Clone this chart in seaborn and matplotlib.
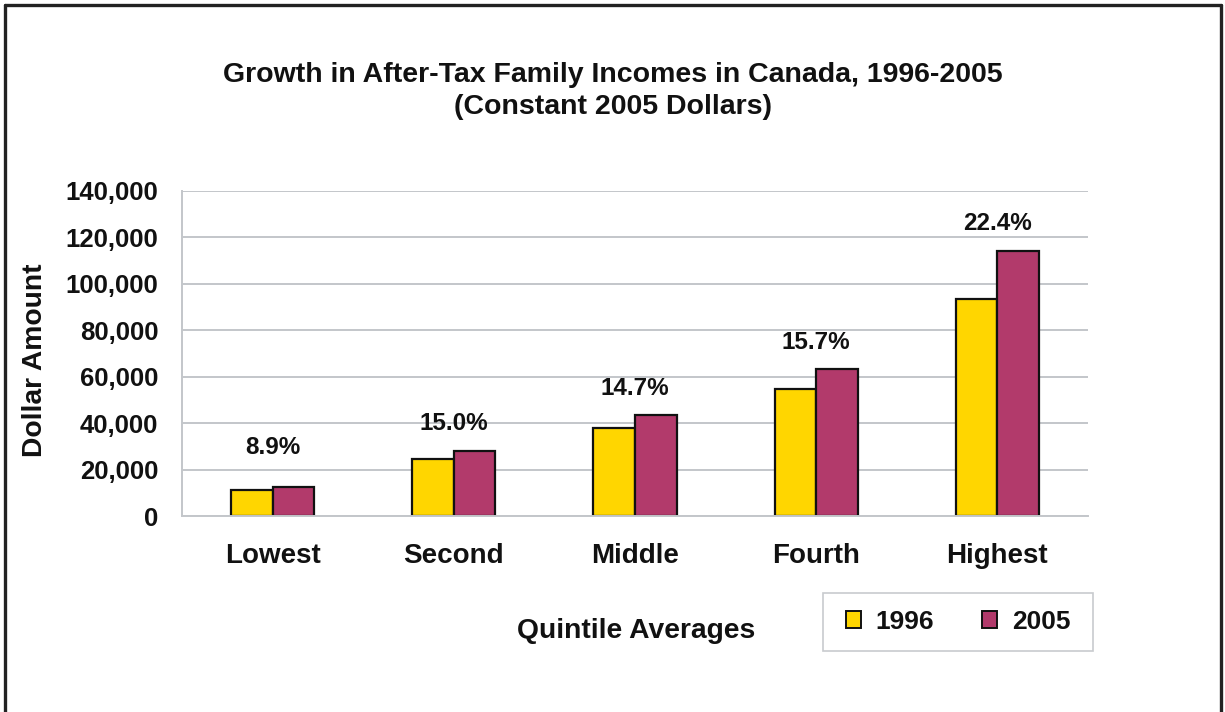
import matplotlib
matplotlib.use("Agg")
import matplotlib.pyplot as plt
from matplotlib.ticker import FuncFormatter, FixedLocator
from matplotlib.patches import Rectangle
from matplotlib.lines import Line2D
import numpy as np
import pandas as pd
import seaborn as sns

# Average after-tax family income by quintile, constant 2005 dollars
quintiles = ["Lowest", "Second", "Middle", "Fourth", "Highest"]
income_1996 = [11400, 24400, 37800, 54700, 93300]
income_2005 = [12400, 28000, 43400, 63300, 114200]
growth_labels = ["8.9%", "15.0%", "14.7%", "15.7%", "22.4%"]
years = ["1996", "2005"]
y_ticks = [0, 20000, 40000, 60000, 80000, 100000, 120000, 140000]

df = pd.DataFrame({
    "quintile": quintiles * 2,
    "income": income_1996 + income_2005,
    "year": [years[0]] * len(quintiles) + [years[1]] * len(quintiles),
})

sns.set_style("white")
plt.rcParams["font.family"] = ["Liberation Sans", "DejaVu Sans"]
plt.rcParams["font.weight"] = "bold"
for key in ["text.color", "axes.labelcolor", "xtick.labelcolor", "ytick.labelcolor"]:
    plt.rcParams[key] = "#111111"

FS_TITLE = 20.5
FS_LABEL = 20.3
FS_XTICK = 20
FS_YTICK = 18.5
FS_ANNOT = 17.5
FS_LEGEND = 19
GRID = "#C3C6CA"
colors = {"1996": "#FFD600", "2005": "#B23A6B"}

fig = plt.figure(figsize=(12.25, 7.12), dpi=100)
ax = fig.add_axes([182 / 1225, 1 - 516 / 712, (1088 - 182) / 1225, (516 - 191) / 712])

sns.barplot(data=df, x="quintile", y="income", hue="year", order=quintiles,
            hue_order=years, palette=colors, width=0.46, edgecolor="#111111",
            linewidth=1.6, saturation=1, legend=False, ax=ax)

ax.set_ylim(0, 140000)
ax.set_xlim(-0.5, len(quintiles) - 0.5)
ax.yaxis.set_major_locator(FixedLocator(y_ticks))
ax.yaxis.set_major_formatter(FuncFormatter(lambda v, _: f"{v:,.0f}"))
ax.grid(axis="y", color=GRID, linewidth=1.4)
ax.set_axisbelow(True)

for s in ["top", "right"]:
    ax.spines[s].set_visible(False)
for s in ["left", "bottom"]:
    ax.spines[s].set_color(GRID)
    ax.spines[s].set_linewidth(1.4)

ax.tick_params(axis="y", which="major", direction="out", length=5, width=1.2,
               color=GRID, pad=12, labelsize=FS_YTICK)
ax.xaxis.set_minor_locator(FixedLocator(np.arange(-0.5, len(quintiles), 1.0)))
ax.tick_params(axis="x", which="major", length=0, pad=19.5, labelsize=FS_XTICK)
ax.tick_params(axis="x", which="minor", direction="out", length=4.5, width=1.2,
               color=GRID)
for lab in ax.get_xticklabels() + ax.get_yticklabels():
    lab.set_fontweight("bold")
ax.set_xlabel("")
ax.set_ylabel("")

# Growth percentage above each quintile pair
for i, (v, lab) in enumerate(zip(income_2005, growth_labels)):
    ax.annotate(lab, xy=(i, max(v, 18000)), xytext=(0, 27), textcoords="offset pixels",
                ha="center", va="center", fontsize=FS_ANNOT, fontweight="bold")

fig.text(0.5, 1 - 75 / 712, "Growth in After-Tax Family Incomes in Canada, 1996-2005",
         ha="center", va="center", fontsize=FS_TITLE, fontweight="bold")
fig.text(0.5, 1 - 107 / 712, "(Constant 2005 Dollars)",
         ha="center", va="center", fontsize=FS_TITLE, fontweight="bold")
fig.text(35 / 1225, 1 - 360 / 712, "Dollar Amount", rotation=90, ha="center",
         va="center", fontsize=FS_LABEL, fontweight="bold")
fig.text(636 / 1225, 1 - 631 / 712, "Quintile Averages", ha="center", va="center",
         fontsize=FS_LABEL, fontweight="bold")

# Legend with a separate rectangular box
handles = [Rectangle((0, 0), 1, 1, facecolor=colors[y], edgecolor="#111111",
                     linewidth=1.4) for y in years]
fig.patches.append(Rectangle((823 / 1225, 1 - 651 / 712), 270 / 1225, 58 / 712,
                             transform=fig.transFigure, fill=False,
                             edgecolor="#C8CBCE", linewidth=1.2))
fig.legend(handles, years, loc="center", bbox_to_anchor=(958 / 1225, 1 - 622 / 712),
           ncol=2, frameon=False, prop={"weight": "bold", "size": FS_LEGEND},
           handlelength=0.58, handleheight=0.58, handletextpad=0.55,
           columnspacing=1.8)

# Page frame
frame_kw = dict(transform=fig.transFigure, color="#222222", linewidth=2.4)
fig.add_artist(Line2D([5 / 1225, 5 / 1225], [0, 1 - 5 / 712], **frame_kw))
fig.add_artist(Line2D([5 / 1225, 1221 / 1225], [1 - 5 / 712, 1 - 5 / 712], **frame_kw))
fig.add_artist(Line2D([1221 / 1225, 1221 / 1225], [0, 1 - 5 / 712], **frame_kw))

fig.savefig("out.png", dpi=100, facecolor="white")
